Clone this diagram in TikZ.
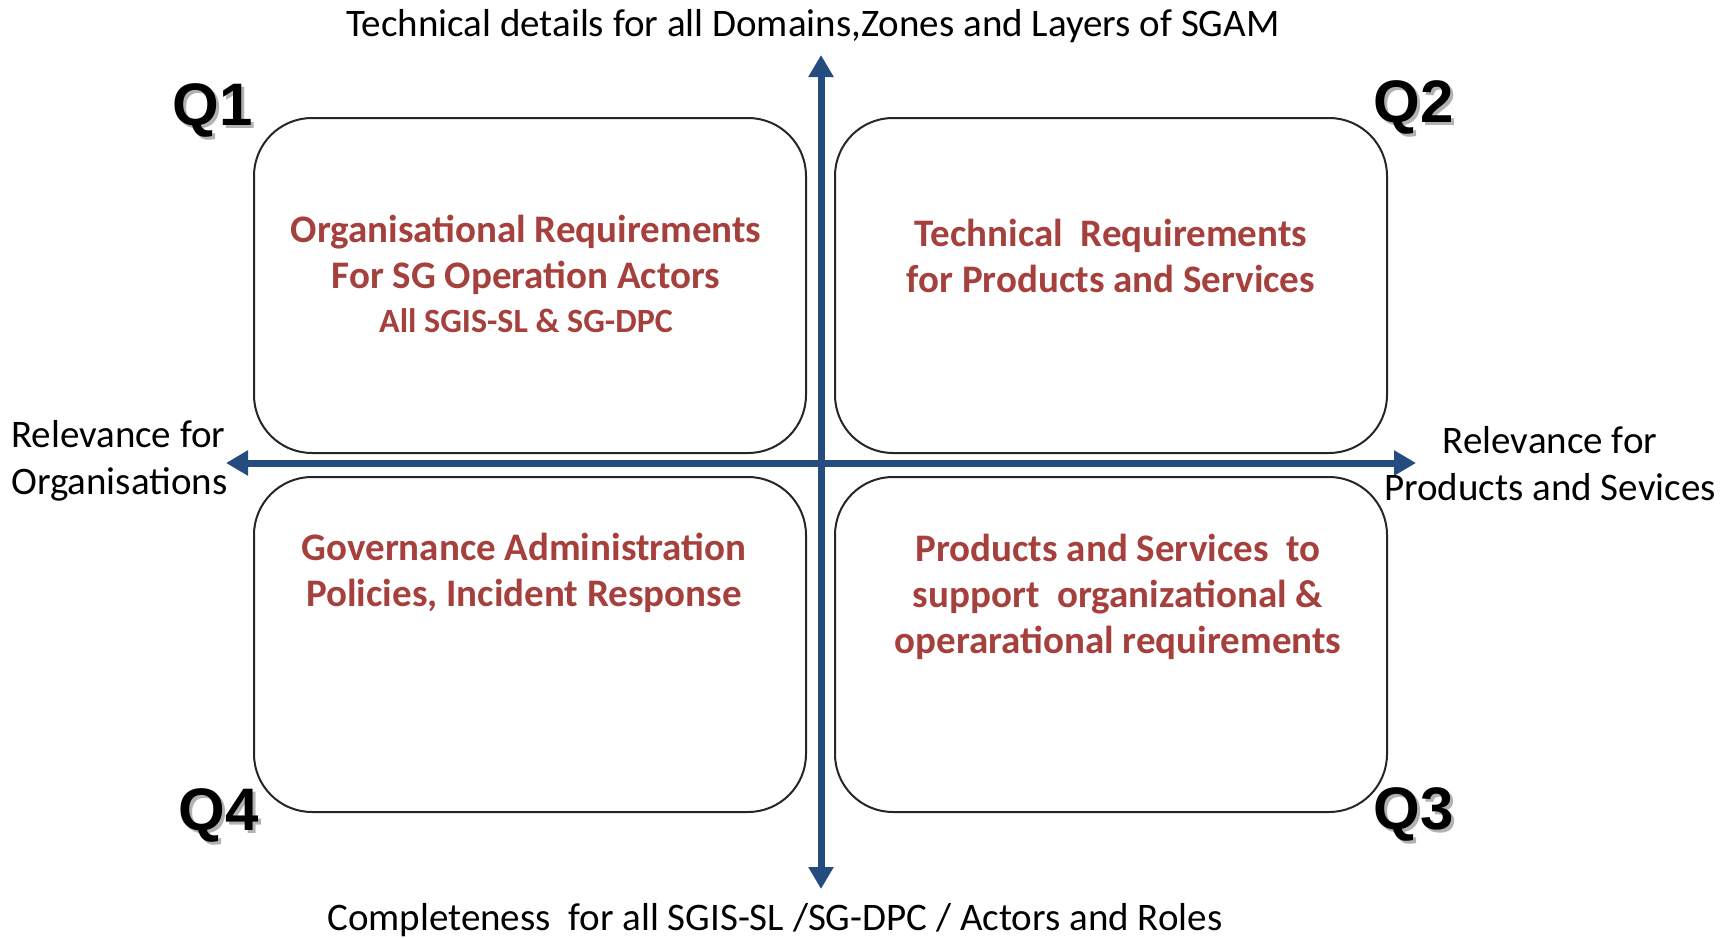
\documentclass[tikz,border=0pt]{standalone}
\usepackage{fontspec}
\setmainfont{Carlito}
\newfontfamily\qfont{Liberation Sans}
\usetikzlibrary{arrows.meta}
\definecolor{axisblue}{RGB}{36,76,126}
\definecolor{boxred}{RGB}{165,64,60}
\tikzset{
  quadbox/.style={draw=black!85, line width=2pt, rounded corners=58pt, minimum width=552pt, minimum height=335pt, inner sep=0pt},
  boxtext/.style={text=boxred, align=center, font=\fontsize{39}{46}\selectfont\bfseries, inner sep=0pt},
  axislabel/.style={text=black, font=\fontsize{39}{47}\selectfont, inner sep=0pt},
  qlabel/.style={font=\qfont\fontsize{60}{60}\selectfont\bfseries, inner sep=0pt},
  qshadow/.style={font=\qfont\fontsize{60}{60}\selectfont\bfseries, inner sep=0pt, text=black!30},
  axisline/.style={draw=axisblue, line width=7pt, {Triangle[width=24pt,length=22pt]}-{Triangle[width=24pt,length=22pt]}}
}
\begin{document}
\begin{tikzpicture}[x=1pt,y=-1pt]
\useasboundingbox (0,0) rectangle (1732,937);
% boxes
\node[quadbox] (b1) at (530,285.5) {};
\node[quadbox] (b2) at (1111,285.5) {};
\node[quadbox] (b4) at (530,644.5) {};
\node[quadbox] (b3) at (1111,644.5) {};
% axes
\coordinate (atop) at (821,55);
\coordinate (abot) at (821,889);
\coordinate (aleft) at (226,463);
\coordinate (aright) at (1416,463);
\draw[axisline] (abot) -- (atop);
\draw[axisline] (aleft) -- (aright);
% box texts
\node[boxtext] (t1) at (526,255) {Organisational Requirements\\For SG Operation Actors};
\node[boxtext, font=\fontsize{34}{40}\selectfont\bfseries] (t1b) at (526,321) {All SGIS-SL \& SG-DPC};
\node[boxtext] (t2) at (1111,256) {Technical\ \ Requirements\\for Products and Services};
\node[boxtext] (t4) at (524,573) {Governance Administration\\Policies, Incident Response};
\node[boxtext] (t3) at (1118,597) {Products and Services\ \ to\\support\ \ organizational \&\\operarational requirements};
% axis labels
\node[axislabel] (ltop) at (813,26) {Technical details for all Domains,Zones and Layers of SGAM};
\node[axislabel] (lbot) at (775,920) {Completeness\ \ for all SGIS-SL /SG-DPC / Actors and Roles};
\node[axislabel, align=left, anchor=west] (lleft) at (11,461) {Relevance for\\Organisations};
\node[axislabel, align=center] (lright) at (1550,464) {Relevance for\\Products and Sevices};
% Q labels
\node[qshadow] at (216,113) {Q1};
\node[qlabel] (q1) at (213,110) {Q1};
\node[qshadow] at (1417,110) {Q2};
\node[qlabel] (q2) at (1414,107) {Q2};
\node[qshadow] at (222,818) {Q4};
\node[qlabel] (q4) at (219,815) {Q4};
\node[qshadow] at (1417,817) {Q3};
\node[qlabel] (q3) at (1414,814) {Q3};
\end{tikzpicture}
\end{document}
